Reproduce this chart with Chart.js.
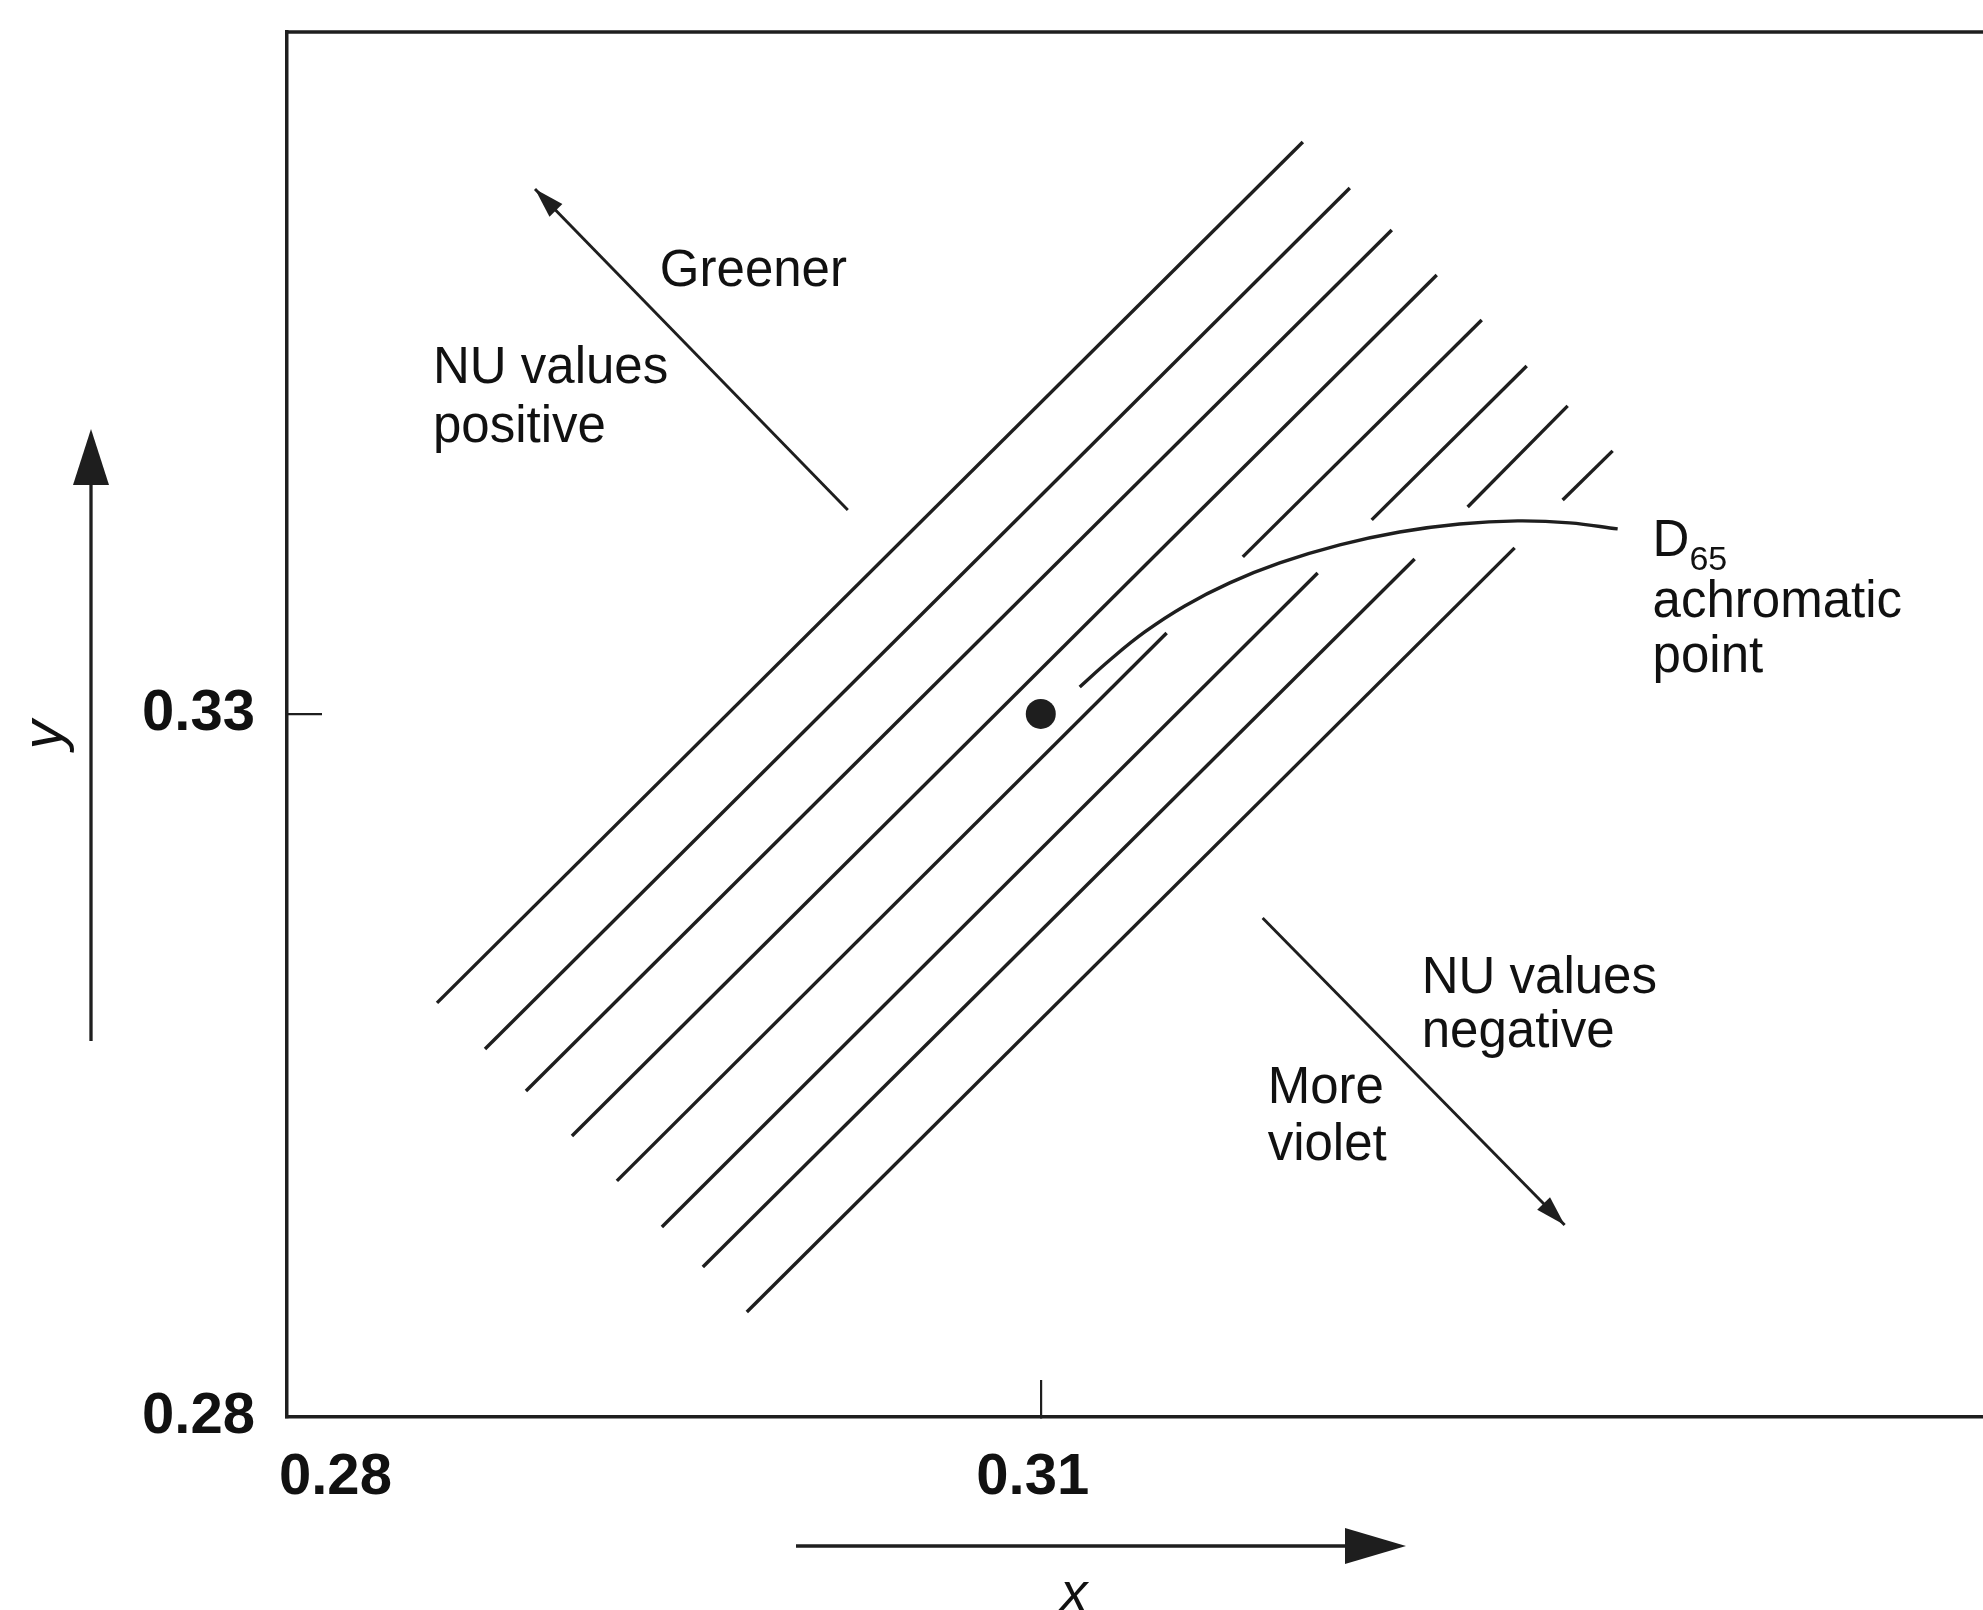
<!DOCTYPE html>
<html>
<head>
<meta charset="utf-8">
<title>NU lines around D65</title>
<script src="https://cdn.jsdelivr.net/npm/chart.js@4.4.1/dist/chart.umd.min.js"></script>
<style>
  html, body { margin: 0; padding: 0; background: #fff; overflow: hidden; }
  #wrap { width: 1983px; height: 1610px; position: relative; }
  #chart { display: block; }
</style>
</head>
<body>
<div id="wrap"><canvas id="chart"></canvas></div>
<script>
// axis ranges and tick labels (CIE x, y)
const xTicks = [0.28, 0.31];
const xTickLabels = ['0.28', '0.31'];
const yTicks = [0.28, 0.33];
const yTickLabels = ['0.28', '0.33'];
const xMin = 0.28, xMax = 0.3475;
const yMin = 0.28, yMax = 0.3785;

// iso-NU lines: lower-left end and upper-right end of each
const nuLowX  = [0.28597, 0.28788, 0.28951, 0.29134, 0.29313, 0.29492, 0.29655, 0.29830];
const nuLowY  = [0.30945, 0.30617, 0.30319, 0.29999, 0.29679, 0.29351, 0.29067, 0.28747];
const nuHighX = [0.32043, 0.32230, 0.32397, 0.32576, 0.32755, 0.32934, 0.33097, 0.33276];
const nuHighY = [0.37068, 0.36741, 0.36442, 0.36122, 0.35802, 0.35475, 0.35191, 0.34871];

// lines 5-8 are cut where the D65 leader passes through them
const gapLine  = [4, 5, 6, 7];
const gapFromX = [0.31501, 0.32102, 0.32488, 0.32886];
const gapFromY = [0.33576, 0.34003, 0.34102, 0.34181];
const gapToX   = [0.31804, 0.32317, 0.32699, 0.33077];
const gapToY   = [0.34117, 0.34380, 0.34472, 0.34522];

// leader curve from the label to the achromatic point
const leaderX = [0.31155, 0.31275, 0.31414, 0.31573, 0.31752, 0.31951, 0.32190, 0.32428, 0.32667, 0.32898, 0.33105, 0.33296];
const leaderY = [0.33192, 0.33384, 0.33583, 0.33768, 0.33932, 0.34074, 0.34202, 0.34294, 0.34351, 0.34373, 0.34359, 0.34316];

// D65 achromatic point
const d65X = [0.31];
const d65Y = [0.33];

// direction arrows (start, tip)
const greenerX = [0.30232, 0.28987];
const greenerY = [0.34451, 0.36734];
const violetX  = [0.31883, 0.33085];
const violetY  = [0.31549, 0.29366];

// text notes, left edge / baseline in chart units
const notes = [
    { text: 'Greener',    x: 0.29484, y: 0.36044 },
    { text: 'NU values',  x: 0.28581, y: 0.35354 },
    { text: 'positive',   x: 0.28581, y: 0.34935 },
    { text: 'NU values',  x: 0.32516, y: 0.31016 },
    { text: 'negative',   x: 0.32516, y: 0.30632 },
    { text: 'More',       x: 0.31903, y: 0.30233 },
    { text: 'violet',     x: 0.31903, y: 0.29828 },
    { text: 'achromatic', x: 0.33435, y: 0.33690 },
    { text: 'point',      x: 0.33435, y: 0.33299 }
];
const d65Label = { x: 0.33435, y: 0.34124 };

const INK = '#1e1e1e';
const NOTE_FONT = '51px "Liberation Sans", Arial, sans-serif';
const TICK_FONT = { family: '"Liberation Sans", Arial, sans-serif', size: 58, weight: 'bold', lineHeight: 1 };

function points(xs, ys) {
    return xs.map((x, i) => ({ x: x, y: ys[i] }));
}

function lineSet(xs, ys, width) {
    return {
        data: points(xs, ys),
        showLine: true,
        borderColor: INK,
        borderWidth: width || 3.4,
        pointRadius: 0,
        fill: false,
        tension: 0
    };
}

const datasets = [];
for (let i = 0; i < nuLowX.length; i++) {
    const g = gapLine.indexOf(i);
    if (g < 0) {
        datasets.push(lineSet([nuLowX[i], nuHighX[i]], [nuLowY[i], nuHighY[i]]));
    } else {
        datasets.push(lineSet([nuLowX[i], gapFromX[g]], [nuLowY[i], gapFromY[g]]));
        datasets.push(lineSet([gapToX[g], nuHighX[i]], [gapToY[g], nuHighY[i]]));
    }
}

const leader = lineSet(leaderX, leaderY, 3.4);
leader.tension = 0.4;
datasets.push(leader);

const greener = lineSet(greenerX, greenerY, 2.9);
greener.arrowHead = { len: 30, half: 9 };
datasets.push(greener);

const violet = lineSet(violetX, violetY, 2.9);
violet.arrowHead = { len: 30, half: 9 };
datasets.push(violet);

datasets.push({
    data: points(d65X, d65Y),
    showLine: false,
    pointRadius: 15,
    pointBackgroundColor: INK,
    pointBorderWidth: 0
});

function drawHead(ctx, x, y, ang, len, half) {
    ctx.save();
    ctx.translate(x, y);
    ctx.rotate(ang);
    ctx.beginPath();
    ctx.moveTo(0, 0);
    ctx.lineTo(-len, -half);
    ctx.lineTo(-len, half);
    ctx.closePath();
    ctx.fillStyle = INK;
    ctx.fill();
    ctx.restore();
}

const decorations = {
    id: 'decorations',
    afterDatasetsDraw(chart) {
        const ctx = chart.ctx;
        const xs = chart.scales.x, ys = chart.scales.y;

        // arrow heads on the direction arrows
        chart.data.datasets.forEach((ds, i) => {
            if (!ds.arrowHead) return;
            const pts = chart.getDatasetMeta(i).data;
            const a = pts[pts.length - 2], b = pts[pts.length - 1];
            drawHead(ctx, b.x, b.y, Math.atan2(b.y - a.y, b.x - a.x), ds.arrowHead.len, ds.arrowHead.half);
        });

        ctx.save();
        ctx.fillStyle = '#111';
        ctx.textAlign = 'left';
        ctx.textBaseline = 'alphabetic';
        ctx.font = NOTE_FONT;
        notes.forEach(n => {
            ctx.fillText(n.text, xs.getPixelForValue(n.x), ys.getPixelForValue(n.y));
        });
        // D with subscript 65
        const dx = xs.getPixelForValue(d65Label.x), dy = ys.getPixelForValue(d65Label.y);
        ctx.fillText('D', dx, dy);
        const dw = ctx.measureText('D').width;
        ctx.font = '34px "Liberation Sans", Arial, sans-serif';
        ctx.fillText('65', dx + dw, dy + 14);
        ctx.restore();
    },
    afterDraw(chart) {
        const ctx = chart.ctx;
        const area = chart.chartArea;
        ctx.save();
        ctx.strokeStyle = INK;
        ctx.lineCap = 'butt';

        // top edge of the frame
        ctx.lineWidth = 3.5;
        ctx.beginPath();
        ctx.moveTo(area.left - 1.75, area.top);
        ctx.lineTo(area.right, area.top);
        ctx.stroke();

        // y direction arrow
        ctx.lineWidth = 3.3;
        ctx.beginPath();
        ctx.moveTo(91, 1041);
        ctx.lineTo(91, 480);
        ctx.stroke();
        drawHead(ctx, 91, 429, -Math.PI / 2, 56, 18);

        // x direction arrow
        ctx.beginPath();
        ctx.moveTo(796, 1546);
        ctx.lineTo(1350, 1546);
        ctx.stroke();
        drawHead(ctx, 1406, 1546, 0, 61, 18);

        // axis letters
        ctx.fillStyle = '#111';
        ctx.textAlign = 'center';
        ctx.textBaseline = 'middle';
        ctx.font = 'italic 58px "Liberation Sans", Arial, sans-serif';
        ctx.save();
        ctx.translate(46, 735);
        ctx.rotate(-Math.PI / 2);
        ctx.fillText('y', 0, 0);
        ctx.restore();
        ctx.textBaseline = 'alphabetic';
        ctx.font = 'italic 54px "Liberation Sans", Arial, sans-serif';
        ctx.fillText('x', 1074, 1610);
        ctx.restore();
    }
};

function tickColor(target) {
    return ctx => (ctx.tick && ctx.tick.value === target) ? INK : 'rgba(0,0,0,0)';
}

// the axes keep their fixed size and ask for no extra room at the ends
function fixBox(w, h) {
    return s => {
        if (w) s.width = w;
        if (h) s.height = h;
        s.paddingLeft = 0;
        s.paddingRight = 0;
        s.paddingTop = 0;
        s.paddingBottom = 0;
    };
}

new Chart(document.getElementById('chart'), {
    type: 'scatter',
    data: { datasets: datasets },
    options: {
        responsive: true,
        maintainAspectRatio: false,
        animation: false,
        events: [],
        layout: { autoPadding: false, padding: { top: 32, left: 0, right: 0, bottom: 0 } },
        plugins: {
            legend: { display: false },
            tooltip: { enabled: false }
        },
        scales: {
            x: {
                type: 'linear',
                position: 'bottom',
                min: xMin,
                max: xMax,
                afterBuildTicks: s => {
                    s.ticks = xTicks.map(v => ({ value: v })).concat([{ value: xMax }]);
                },
                afterFit: fixBox(0, 193),
                border: { display: true, color: INK, width: 3.5 },
                grid: {
                    display: true,
                    drawOnChartArea: false,
                    drawTicks: true,
                    tickLength: -37,
                    lineWidth: 2.2,
                    color: tickColor(0.31)
                },
                ticks: {
                    align: 'inner',
                    autoSkip: false,
                    maxRotation: 0,
                    padding: 69,
                    labelOffset: -8,
                    color: '#111',
                    font: TICK_FONT,
                    callback: v => {
                        const k = xTicks.indexOf(v);
                        return k < 0 ? '' : xTickLabels[k];
                    }
                }
            },
            y: {
                type: 'linear',
                position: 'left',
                min: yMin,
                max: yMax,
                afterBuildTicks: s => {
                    s.ticks = yTicks.map(v => ({ value: v }));
                },
                afterFit: fixBox(287, 0),
                border: { display: true, color: INK, width: 3.5 },
                grid: {
                    display: true,
                    drawOnChartArea: false,
                    drawTicks: true,
                    tickLength: -35,
                    lineWidth: 2.2,
                    color: tickColor(0.33)
                },
                ticks: {
                    autoSkip: false,
                    padding: 67,
                    color: '#111',
                    font: TICK_FONT,
                    callback: v => {
                        const k = yTicks.indexOf(v);
                        return k < 0 ? '' : yTickLabels[k];
                    }
                }
            }
        }
    },
    plugins: [decorations]
});
</script>
</body>
</html>
